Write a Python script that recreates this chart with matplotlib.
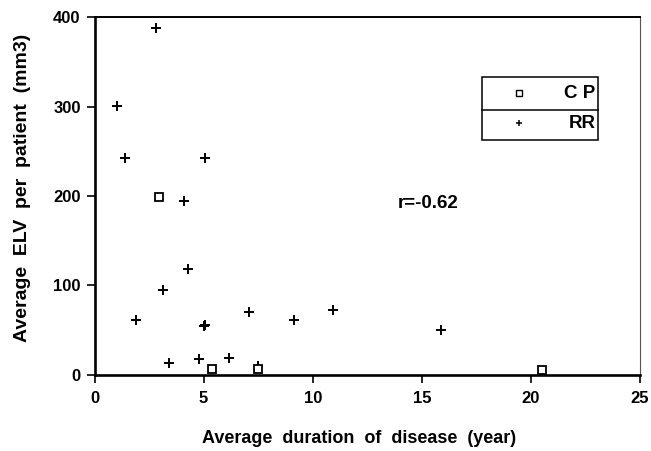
import numpy as np
import matplotlib
matplotlib.use("Agg")
import matplotlib.pyplot as plt
from matplotlib.patches import Rectangle
from matplotlib.lines import Line2D

plt.rcParams["font.family"] = ["Liberation Sans", "DejaVu Sans"]
plt.rcParams["font.weight"] = "bold"

# RR patients: average duration (years) vs average ELV (mm3)
rr_x = [2.8, 1.05, 1.4, 5.05, 4.1, 4.3, 3.15, 1.9, 5.0, 5.05, 7.1, 3.4, 4.8, 6.15, 7.5, 9.15, 10.95, 15.9]
rr_y = [388, 301, 242, 242, 194, 118, 95, 61, 54, 56, 70, 13, 17, 18, 10, 61, 72, 50]

# CP patients
cp_x = [2.95, 5.4, 7.5, 20.5]
cp_y = [199, 6, 6, 5]

x_ticks = [0, 5, 10, 15, 20, 25]
y_ticks = [0, 100, 200, 300, 400]
r_label = "r=-0.62"

fig = plt.figure(figsize=(6.51, 4.51), dpi=100)
ax = fig.add_axes([0.1452, 0.1696, 0.8379, 0.792])

ax.plot(rr_x, rr_y, linestyle="none", marker="+", markersize=7,
        markeredgewidth=1.4, color="black", clip_on=False)
ax.plot(cp_x, cp_y, linestyle="none", marker="s", markersize=5.2,
        markeredgewidth=1.3, markerfacecolor="white", markeredgecolor="black",
        clip_on=False)

ax.set_xlim(0, 25)
ax.set_ylim(0, 400)
ax.set_xticks(x_ticks)
ax.set_yticks(y_ticks)
ax.tick_params(direction="out", length=6, width=1.2, labelsize=12, pad=4)
ax.tick_params(axis="x", pad=6)
for lab in ax.get_xticklabels() + ax.get_yticklabels():
    lab.set_fontweight("bold")

# spines: heavy left/bottom, lighter top/right
ax.spines["left"].set_linewidth(1.9)
ax.spines["bottom"].set_linewidth(1.9)
ax.spines["top"].set_linewidth(1.4)
ax.spines["right"].set_linewidth(0.8)
ax.spines["right"].set_color("#555555")

# correlation note
ax.text(15.3, 192, r_label, fontsize=13.5, fontweight="bold", ha="center", va="center")

# hand drawn legend box with a divider between rows
box = Rectangle((0.711, 0.6565), 0.212, 0.1755, transform=ax.transAxes,
                fill=False, edgecolor="black", linewidth=1.1, clip_on=False)
ax.add_patch(box)
ax.add_line(Line2D([0.711, 0.923], [0.7415, 0.7415], transform=ax.transAxes,
                   color="black", linewidth=1.1, clip_on=False))
ax.plot([0.778], [0.787], transform=ax.transAxes, marker="s", markersize=4,
        markeredgewidth=1.0, markerfacecolor="white", markeredgecolor="black",
        linestyle="none", clip_on=False)
ax.plot([0.778], [0.703], transform=ax.transAxes, marker="+", markersize=5,
        markeredgewidth=1.1, color="black", linestyle="none", clip_on=False)
ax.text(0.918, 0.787, "C P", transform=ax.transAxes, fontsize=13.5,
        fontweight="bold", ha="right", va="center")
ax.text(0.918, 0.703, "RR", transform=ax.transAxes, fontsize=13.5,
        fontweight="bold", ha="right", va="center")

fig.text(0.552, 0.028, "Average  duration  of  disease  (year)", fontsize=13,
         fontweight="bold", ha="center", va="center")
fig.text(0.035, 0.583, "Average  ELV  per  patient  (mm3)", fontsize=14,
         fontweight="bold", ha="center", va="center", rotation=90)

fig.savefig("out.png", dpi=100)
